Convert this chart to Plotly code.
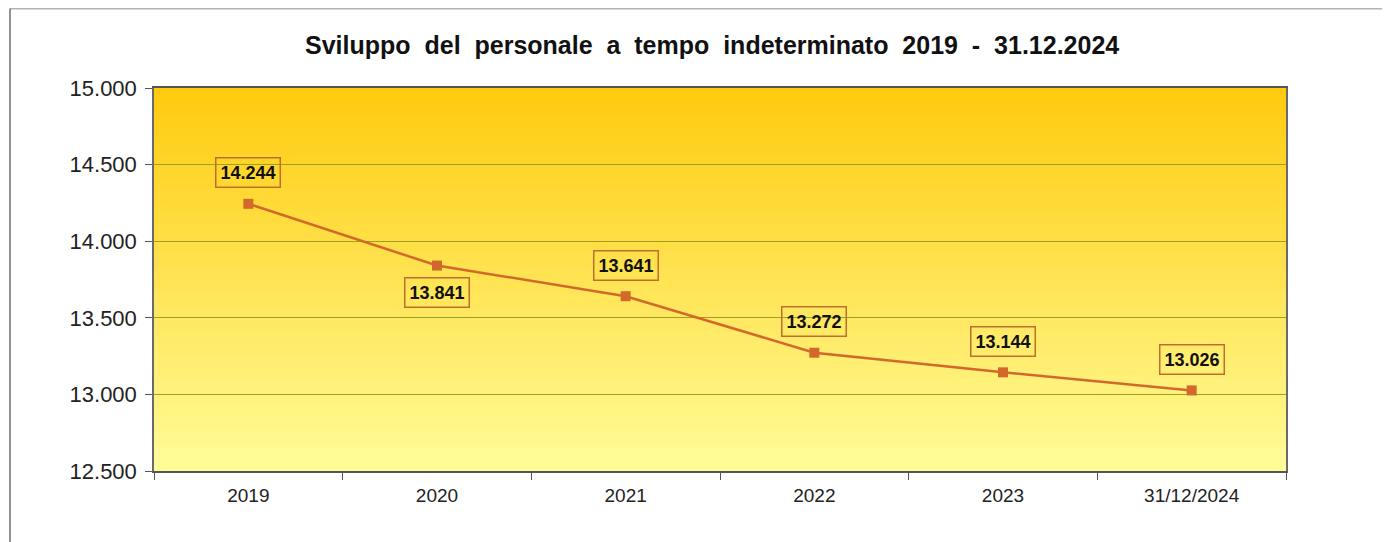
import plotly.graph_objects as go

categories = ["2019", "2020", "2021", "2022", "2023", "31/12/2024"]
values = [14244, 13841, 13641, 13272, 13144, 13026]
label_pos = ["above", "below", "above", "above", "above", "above"]
y_ticks = [12500, 13000, 13500, 14000, 14500, 15000]
title_text = "Sviluppo  del  personale  a  tempo  indeterminato  2019  -  31.12.2024"

LINE_COLOR = "#D2692A"
GRID_COLOR = "#A0A020"

fig = go.Figure()

# gradient background for plot area (stacked overlapping bands)
top = (255, 203, 15)
bot = (255, 252, 152)
n = 80
for i in range(n):
    t = i / (n - 1)
    r = round(top[0] + (bot[0] - top[0]) * t)
    g = round(top[1] + (bot[1] - top[1]) * t)
    b = round(top[2] + (bot[2] - top[2]) * t)
    y1 = 1 - i / n
    y0 = max(0, 1 - (i + 1.6) / n)
    fig.add_shape(type="rect", xref="x domain", yref="y domain",
                  x0=0, x1=1, y0=y0, y1=y1,
                  fillcolor=f"rgb({r},{g},{b})", line_width=0, layer="below")

xs = list(range(len(categories)))

fig.add_trace(go.Scatter(
    x=xs, y=values, mode="lines+markers",
    line=dict(color=LINE_COLOR, width=2.5),
    marker=dict(symbol="square", size=10, color=LINE_COLOR),
    hoverinfo="skip", showlegend=False,
))

for xi, v, p in zip(xs, values, label_pos):
    fig.add_annotation(
        x=xi, y=v, xref="x", yref="y",
        text=f"<b>{v:,}</b>".replace(",", "."),
        showarrow=False,
        yshift=31 if p == "above" else -27,
        font=dict(family="Liberation Sans, Arial", size=18, color="#111111"),
        bordercolor="#BE6F2C", borderwidth=1.5, borderpad=4,
        bgcolor="rgba(0,0,0,0)",
    )

# outer chart frame (top and left edges visible)
fig.add_shape(type="line", xref="paper", yref="paper",
              x0=-0.1272, x1=1.2, y0=1.2076, y1=1.2076,
              line=dict(color="#B4B4B4", width=2))
fig.add_shape(type="line", xref="paper", yref="paper",
              x0=-0.1272, x1=-0.1272, y0=-0.3, y1=1.2076,
              line=dict(color="#6E6E6E", width=1.5))

fig.update_layout(
    width=1382, height=534,
    margin=dict(l=146, r=104, t=80, b=71),
    paper_bgcolor="white", plot_bgcolor="rgba(0,0,0,0)",
    separators=",.",
    title=dict(text=f"<b>{title_text}</b>", x=0.5095, xanchor="center",
               y=0.931, yanchor="middle",
               font=dict(family="Liberation Sans, Arial", size=25, color="#111111")),
    font=dict(family="Liberation Sans, Arial", color="#222222"),
)

fig.update_xaxes(
    tickmode="array", tickvals=xs, ticktext=categories,
    ticks="", showline=True, linecolor="#555555", linewidth=1.5,
    mirror=True, showgrid=False, tickfont=dict(size=19, color="#222222"),
    range=[-0.5, 5.5], zeroline=False, ticklabelstandoff=6,
)
# boundary ticks for the category axis via minor ticks
fig.update_xaxes(minor=dict(tickvals=[i - 0.5 for i in range(len(categories) + 1)],
                            ticks="outside", ticklen=7, tickcolor="#555555",
                            showgrid=False))
fig.update_yaxes(
    range=[12500, 15000], tickvals=y_ticks, tickformat=",d",
    ticks="outside", ticklen=7, tickcolor="#555555",
    showline=True, linecolor="#6A6A6A", linewidth=1.5, mirror=True,
    showgrid=True, gridcolor=GRID_COLOR, gridwidth=1,
    tickfont=dict(size=22, color="#222222"), zeroline=False,
    ticklabelstandoff=4,
)

fig.write_html("out.html")
